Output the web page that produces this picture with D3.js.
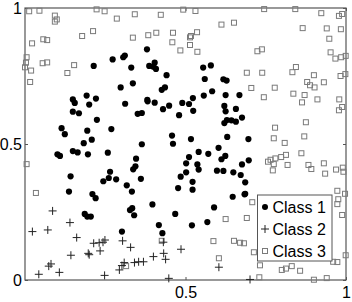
<!DOCTYPE html>
<html>
<head>
<meta charset="utf-8">
<script src="https://cdn.jsdelivr.net/npm/d3@7"></script>
<style>
  body { margin: 0; background: #fff; }
  text { font-family: "Liberation Sans", Arial, sans-serif; }
</style>
</head>
<body>
<svg id="chart" width="352" height="302"></svg>
<script>
// values, [x, y]
var class1 = [
  [0.273,0.811],[0.214,0.787],[0.192,0.678],[0.149,0.664],[0.221,0.667],[0.298,0.708],
  [0.380,0.848],[0.306,0.819],[0.311,0.825],[0.331,0.781],[0.404,0.799],[0.387,0.787],
  [0.400,0.784],[0.408,0.776],[0.441,0.753],[0.336,0.723],[0.426,0.699],[0.436,0.708],
  [0.555,0.781],[0.579,0.789],[0.560,0.739],[0.618,0.738],[0.628,0.733],[0.381,0.662],
  [0.523,0.669],[0.557,0.678],[0.583,0.694],[0.625,0.680],[0.668,0.680],[0.155,0.651],
  [0.200,0.645],[0.149,0.619],[0.168,0.613],[0.224,0.589],[0.114,0.558],[0.124,0.536],
  [0.194,0.549],[0.269,0.555],[0.208,0.516],[0.183,0.503],[0.101,0.462],[0.109,0.456],
  [0.149,0.474],[0.164,0.469],[0.196,0.462],[0.258,0.468],[0.265,0.398],[0.142,0.381],
  [0.261,0.375],[0.244,0.363],[0.284,0.370],[0.137,0.325],[0.210,0.316],[0.312,0.648],
  [0.382,0.657],[0.404,0.652],[0.351,0.611],[0.364,0.614],[0.430,0.628],[0.449,0.641],
  [0.490,0.651],[0.511,0.647],[0.480,0.606],[0.524,0.622],[0.621,0.640],[0.625,0.620],
  [0.629,0.588],[0.621,0.577],[0.458,0.531],[0.461,0.501],[0.517,0.518],[0.630,0.526],
  [0.364,0.499],[0.603,0.486],[0.571,0.464],[0.541,0.471],[0.511,0.452],[0.612,0.444],
  [0.624,0.456],[0.502,0.429],[0.537,0.425],[0.346,0.446],[0.344,0.418],[0.337,0.407],
  [0.541,0.406],[0.502,0.396],[0.485,0.380],[0.361,0.372],[0.598,0.402],[0.618,0.401],
  [0.317,0.348],[0.333,0.325],[0.477,0.338],[0.522,0.361],[0.522,0.332],[0.657,0.629],
  [0.643,0.587],[0.657,0.582],[0.676,0.597],[0.696,0.518],[0.697,0.440],[0.676,0.425],
  [0.649,0.396],[0.672,0.386],[0.686,0.359],[0.686,0.317],[0.220,0.301],[0.186,0.243],
  [0.194,0.233],[0.205,0.233],[0.397,0.278],[0.334,0.264],[0.327,0.257],[0.340,0.238],
  [0.468,0.243],[0.520,0.201],[0.568,0.213],[0.589,0.267],[0.417,0.202],[0.428,0.172],
  [0.302,0.178],[0.647,0.306],[0.684,0.315]
];
var class2 = [
  [0.086,0.254],[0.023,0.178],[0.071,0.184],[0.140,0.211],[0.161,0.156],[0.143,0.091],
  [0.197,0.098],[0.200,0.093],[0.214,0.135],[0.231,0.137],[0.249,0.147],[0.243,0.139],
  [0.234,0.107],[0.074,0.051],[0.081,0.059],[0.107,0.028],[0.043,0.021],[0.248,0.017],
  [0.304,0.144],[0.329,0.120],[0.431,0.139],[0.486,0.113],[0.400,0.086],[0.432,0.098],
  [0.438,0.076],[0.369,0.067],[0.354,0.067],[0.341,0.064],[0.309,0.064],[0.302,0.053],
  [0.294,0.037],[0.448,0.006],[0.604,0.047],[0.701,0.002]
];
var class3 = [
  [0.013,0.988],[0.045,0.990],[0.093,0.972],[0.099,0.958],[0.093,0.950],[0.223,0.995],
  [0.248,0.988],[0.286,0.961],[0.212,0.915],[0.178,0.897],[0.022,0.870],[0.057,0.885],
  [0.069,0.882],[0.005,0.819],[0.003,0.799],[0.000,0.782],[0.019,0.770],[0.055,0.797],
  [0.069,0.800],[0.153,0.790],[0.132,0.761],[0.016,0.728],
  [0.342,0.977],[0.423,0.975],[0.493,0.994],[0.531,0.989],[0.612,0.939],[0.336,0.891],
  [0.384,0.900],[0.409,0.909],[0.461,0.909],[0.459,0.874],[0.517,0.897],[0.514,0.892],
  [0.536,0.911],[0.484,0.844],[0.514,0.864],[0.537,0.839],
  [0.745,0.996],[0.842,0.996],[0.923,0.981],[0.978,0.971],[0.988,0.978],[0.651,0.946],
  [0.865,0.926],[0.940,0.925],[0.984,0.922],[0.948,0.887],[0.724,0.841],[0.738,0.848],
  [0.952,0.837],[0.967,0.814],[0.985,0.819],[0.999,0.824],[0.691,0.762],[0.739,0.762],
  [0.833,0.764],[0.844,0.783],[0.900,0.753],[0.879,0.728],[0.888,0.716],[0.902,0.708],
  [0.931,0.727],[0.983,0.750],[0.998,0.757],[0.705,0.706],[0.778,0.707],[0.836,0.685],
  [0.871,0.680],[0.744,0.672],[0.911,0.664],[0.979,0.664],
  [0.005,0.426],[0.034,0.320],
  [0.863,0.653],[0.988,0.636],[0.978,0.624],[0.875,0.580],[0.779,0.560],[0.775,0.521],
  [0.870,0.528],[0.809,0.504],[0.861,0.466],[0.813,0.460],[0.798,0.452],[0.780,0.447],
  [0.765,0.442],[0.757,0.435],[0.775,0.426],[0.772,0.403],[0.818,0.423],[0.883,0.423],
  [0.892,0.408],[0.931,0.429],[0.935,0.391],[0.969,0.406],[0.990,0.413],[0.992,0.398],
  [0.973,0.328],[0.997,0.317],
  [0.426,0.144],[0.315,0.051],[0.587,0.143],[0.625,0.224],[0.604,0.080],
  [0.708,0.286],[0.691,0.228],[0.651,0.144],[0.670,0.137],[0.682,0.135],[0.713,0.102],
  [0.732,0.054],[0.800,0.037],[0.813,0.042],[0.831,0.051],[0.857,0.034],[0.900,0.001],
  [0.940,0.007],[0.730,0.010],[0.960,0.067],[0.973,0.066],[0.999,0.091],[0.988,0.239],
  [0.973,0.279],[0.976,0.297]
];
var xTicks = [0.5, 1];
var yTicks = [0, 0.5, 1];
var legendLabels = ['Class 1', 'Class 2', 'Class 3'];

var svg = d3.select('#chart'),
    MARGINS = {left: 25, right: 6, top: 8, bottom: 22},
    WIDTH = 352, HEIGHT = 302,
    axisColor = '#555',
    x = d3.scaleLinear().domain([0, 1]).range([MARGINS.left, WIDTH - MARGINS.right]),
    y = d3.scaleLinear().domain([0, 1]).range([HEIGHT - MARGINS.bottom, MARGINS.top]);

// frame
svg.append('rect')
    .attr('x', x(0)).attr('y', y(1))
    .attr('width', x(1) - x(0)).attr('height', y(0) - y(1))
    .attr('fill', 'none').attr('stroke', axisColor).attr('stroke-width', 1.2);

function styleAxis(g){
    g.select('.domain').remove();
    g.selectAll('line').attr('stroke', axisColor);
    g.selectAll('text').attr('fill', '#000').style('font-size', '16px')
        .style('font-family', '"Liberation Sans", Arial, sans-serif');
}

svg.append('g')
    .attr('transform', 'translate(0,' + y(0) + ')')
    .call(d3.axisBottom(x).tickValues(xTicks).tickSize(-3).tickPadding(6.5).tickFormat(d3.format('')))
    .call(styleAxis);
svg.append('g')
    .attr('transform', 'translate(0,' + y(1) + ')')
    .call(d3.axisTop(x).tickValues(xTicks).tickSize(-3).tickFormat(''))
    .call(styleAxis);
svg.append('g')
    .attr('transform', 'translate(' + x(0) + ',0)')
    .call(d3.axisLeft(y).tickValues(yTicks).tickSize(-3).tickPadding(3).tickFormat(d3.format('')))
    .call(styleAxis);
svg.append('g')
    .attr('transform', 'translate(' + x(1) + ',0)')
    .call(d3.axisRight(y).tickValues(yTicks).tickSize(-3).tickFormat(''))
    .call(styleAxis);

// class 3 squares
svg.append('g').selectAll('rect').data(class3).enter().append('rect')
    .attr('x', function(d){ return x(d[0]) - 2.5; })
    .attr('y', function(d){ return y(d[1]) - 2.5; })
    .attr('width', 5).attr('height', 5)
    .attr('fill', 'none').attr('stroke', '#7a7a7a').attr('stroke-width', 1);

// class 2 plus signs
function plusPath(cx, cy, s){
    return 'M' + (cx - s) + ',' + cy + 'H' + (cx + s) + 'M' + cx + ',' + (cy - s) + 'V' + (cy + s);
}
svg.append('g').selectAll('path').data(class2).enter().append('path')
    .attr('d', function(d){ return plusPath(x(d[0]), y(d[1]), 4); })
    .attr('stroke', '#222').attr('stroke-width', 1).attr('fill', 'none');

// class 1 dots
svg.append('g').selectAll('circle').data(class1).enter().append('circle')
    .attr('cx', function(d){ return x(d[0]); })
    .attr('cy', function(d){ return y(d[1]); })
    .attr('r', 3.1).attr('fill', '#000');

// legend
var legend = svg.append('g').attr('transform', 'translate(257.5,195)');
legend.append('rect')
    .attr('width', 74.5).attr('height', 66)
    .attr('fill', '#fff').attr('stroke', axisColor).attr('stroke-width', 1);
legendLabels.forEach(function(lab, i){
    var ly = 12 + i * 22, lx = 7.5;
    if (i === 0) {
        legend.append('circle').attr('cx', lx).attr('cy', ly).attr('r', 3).attr('fill', '#000');
    } else if (i === 1) {
        legend.append('path').attr('d', plusPath(lx, ly, 4))
            .attr('stroke', '#222').attr('fill', 'none');
    } else {
        legend.append('rect').attr('x', lx - 2.5).attr('y', ly - 2.5).attr('width', 5).attr('height', 5)
            .attr('fill', 'none').attr('stroke', '#7a7a7a');
    }
    legend.append('text').attr('x', 15).attr('y', ly).attr('dy', '0.35em')
        .style('font-size', '16px').text(lab);
});
</script>
</body>
</html>
